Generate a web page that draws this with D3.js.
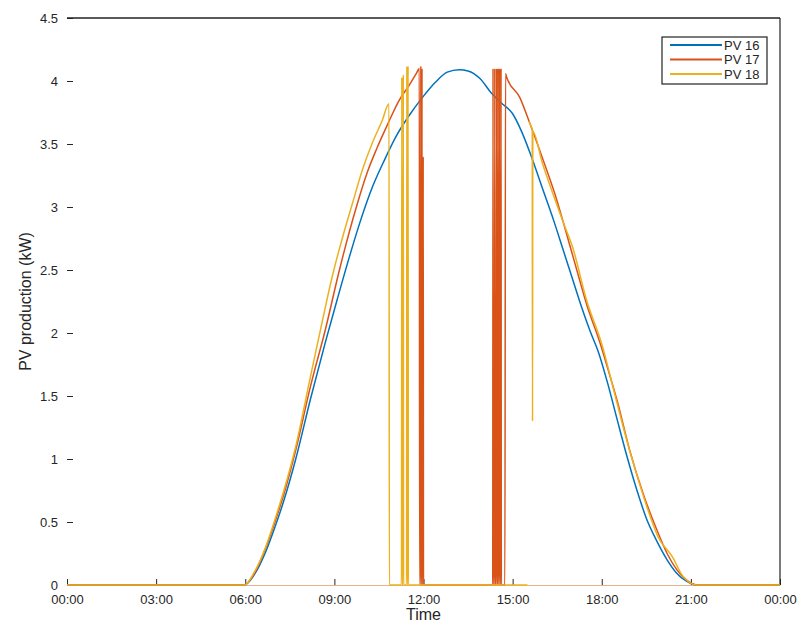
<!DOCTYPE html>
<html>
<head>
<meta charset="utf-8">
<script src="https://cdn.jsdelivr.net/npm/d3@7"></script>
<style>
  html, body { margin: 0; padding: 0; background: #fff; }
  svg { display: block; font-family: "Liberation Sans", Arial, Helvetica, sans-serif; }
</style>
</head>
<body>
<svg id="chart" width="807" height="624"></svg>
<script>
// ---------------- data (hours of day, kW) ----------------
const seriesNames = ["PV 16", "PV 17", "PV 18"];
const seriesColors = ["#0072BD", "#D95319", "#EDB120"];

const pv16Hours  = [0, 5.97, 6.3, 6.7, 7.0, 7.3, 7.7, 8.2, 8.7, 9.1, 9.5, 9.85, 10.3, 10.7, 11.1, 11.5, 12.0, 12.4, 12.8, 13.2, 13.5, 13.9, 14.3, 14.6, 15.0, 15.3, 15.6, 16.0, 16.4, 16.7, 17.0, 17.3, 17.6, 17.9, 18.2, 18.5, 18.85, 19.2, 19.5, 19.85, 20.2, 20.5, 20.85, 21.2, 24];
const pv16Values = [0, 0, 0.08, 0.27, 0.46, 0.67, 1.0, 1.48, 1.93, 2.27, 2.6, 2.87, 3.17, 3.38, 3.57, 3.72, 3.88, 3.99, 4.07, 4.09, 4.08, 4.02, 3.9, 3.83, 3.74, 3.60, 3.42, 3.15, 2.88, 2.66, 2.44, 2.22, 2.02, 1.84, 1.6, 1.33, 1.02, 0.74, 0.53, 0.35, 0.2, 0.1, 0.03, 0, 0];

const pv17Hours  = [0, 5.97, 6.3, 6.7, 7.0, 7.3, 7.7, 8.2, 8.7, 9.17, 9.74, 10.1, 10.42, 10.8, 11.19, 11.5, 11.76, 11.86, 11.87, 11.9, 11.91, 11.92, 11.94, 11.95, 11.96, 11.98, 11.99, 12.0, 14.33, 14.34, 14.35, 14.39, 14.4, 14.41, 14.45, 14.46, 14.47, 14.5, 14.51, 14.52, 14.55, 14.56, 14.57, 14.6, 14.61, 14.62, 14.74, 14.76, 14.8, 15.24, 15.57, 16.0, 16.48, 16.8, 17.16, 17.5, 17.93, 18.2, 18.51, 18.94, 19.4, 19.85, 20.2, 20.53, 20.85, 21.2, 24];
const pv17Values = [0, 0, 0.09, 0.3, 0.5, 0.72, 1.07, 1.58, 2.03, 2.5, 3.0, 3.27, 3.46, 3.66, 3.85, 3.96, 4.06, 4.1, 0, 0, 4.12, 0, 0, 4.1, 0, 0, 3.4, 0, 0, 4.1, 0, 0, 4.1, 0, 0, 4.1, 0, 0, 4.1, 0, 0, 4.1, 0, 0, 4.1, 0, 0, 4.06, 4.03, 3.87, 3.67, 3.39, 3.06, 2.8, 2.5, 2.22, 1.93, 1.72, 1.47, 1.07, 0.72, 0.44, 0.25, 0.12, 0.04, 0, 0];

const pv18Hours  = [0, 5.97, 6.3, 6.7, 7.0, 7.3, 7.7, 8.2, 8.6, 8.93, 9.3, 9.61, 9.95, 10.28, 10.6, 10.84, 10.85, 11.26, 11.27, 11.28, 11.31, 11.32, 11.33, 11.43, 11.44, 11.45, 11.47, 11.48, 11.49, 15.5, 15.52, 15.55, 15.62, 15.66, 15.67, 15.68, 16.0, 16.35, 16.7, 17.02, 17.49, 18.03, 18.4, 18.84, 19.2, 19.52, 19.9, 20.39, 20.7, 21.2, 24];
const pv18Values = [0, 0, 0.1, 0.31, 0.52, 0.75, 1.1, 1.66, 2.1, 2.45, 2.78, 3.03, 3.3, 3.51, 3.68, 3.82, 0, 0, 4.03, 0, 0, 4.05, 0, 0, 4.12, 0, 0, 4.12, 0, 0, null, 3.68, 3.64, 3.62, 1.3, 3.6, 3.35, 3.11, 2.88, 2.68, 2.26, 1.89, 1.55, 1.15, 0.86, 0.62, 0.38, 0.22, 0.08, 0, 0];

const xTickHours  = [0, 3, 6, 9, 12, 15, 18, 21, 24];
const xTickLabels = ["00:00", "03:00", "06:00", "09:00", "12:00", "15:00", "18:00", "21:00", "00:00"];
const yTicks = [0, 0.5, 1, 1.5, 2, 2.5, 3, 3.5, 4, 4.5];

// ---------------- layout ----------------
const svg = d3.select("#chart");
const plotLeft = 67, plotRight = 780, plotTop = 18, plotBottom = 585;
const textColor = "#262626";

const x = d3.scaleLinear().domain([0, 24]).range([plotLeft, plotRight]);
const y = d3.scaleLinear().domain([0, 4.5]).range([plotBottom, plotTop]);

// axes
const xAxis = d3.axisBottom(x)
  .tickValues(xTickHours)
  .tickFormat((d, i) => xTickLabels[i])
  .tickSizeInner(-6).tickSizeOuter(0).tickPadding(10);
const gx = svg.append("g").attr("transform", `translate(0,${plotBottom})`).call(xAxis);
gx.select(".domain").attr("stroke", "#e3b48e").attr("stroke-width", 1);
gx.selectAll(".tick line").attr("stroke", textColor);
gx.selectAll(".tick text").attr("fill", textColor).style("font-size", "13px");

const yAxis = d3.axisLeft(y)
  .tickValues(yTicks)
  .tickFormat(d => String(d))
  .tickSizeInner(-6).tickSizeOuter(0).tickPadding(9);
const gy = svg.append("g").attr("transform", `translate(${plotLeft},0)`).call(yAxis);
gy.select(".domain").remove();
gy.selectAll(".tick line").attr("stroke", textColor);
gy.selectAll(".tick text").attr("fill", textColor).style("font-size", "13px");

// top and right box lines
svg.append("line").attr("x1", plotLeft).attr("x2", plotRight).attr("y1", plotTop).attr("y2", plotTop)
  .attr("stroke", "#222").attr("stroke-width", 1.5);
svg.append("line").attr("x1", plotRight).attr("x2", plotRight).attr("y1", plotTop).attr("y2", plotBottom)
  .attr("stroke", "#222").attr("stroke-width", 1.2);

// axis labels
svg.append("text").attr("x", (plotLeft + plotRight) / 2).attr("y", 620)
  .attr("text-anchor", "middle").attr("fill", textColor).style("font-size", "16px").text("Time");
svg.append("text").attr("transform", `translate(25,${(plotTop + plotBottom) / 2}) rotate(-90)`)
  .attr("text-anchor", "middle").attr("dominant-baseline", "central")
  .attr("fill", textColor).style("font-size", "16px").text("PV production (kW)");

// series
const allHours  = [pv16Hours, pv17Hours, pv18Hours];
const allValues = [pv16Values, pv17Values, pv18Values];
const line = d3.line()
  .defined(d => d[1] !== null)
  .x(d => x(d[0])).y(d => y(d[1]))
  .curve(d3.curveMonotoneX);

const plot = svg.append("g");
allHours.forEach((hrs, i) => {
  const pts = hrs.map((h, j) => [h, allValues[i][j]]);
  plot.append("path").datum(pts)
    .attr("fill", "none")
    .attr("stroke", seriesColors[i])
    .attr("stroke-width", 1.5)
    .attr("d", line);
});

// legend
const lg = svg.append("g");
lg.append("rect").attr("x", 662).attr("y", 37).attr("width", 105).attr("height", 47)
  .attr("fill", "#fff").attr("stroke", "#222").attr("stroke-width", 1.2);
seriesNames.forEach((name, i) => {
  const ly = 45 + i * 14.5;
  lg.append("line").attr("x1", 670).attr("x2", 722).attr("y1", ly).attr("y2", ly)
    .attr("stroke", seriesColors[i]).attr("stroke-width", 1.8);
  lg.append("text").attr("x", 724).attr("y", ly).attr("dominant-baseline", "central")
    .attr("fill", textColor).style("font-size", "13px").text(name);
});
</script>
</body>
</html>
